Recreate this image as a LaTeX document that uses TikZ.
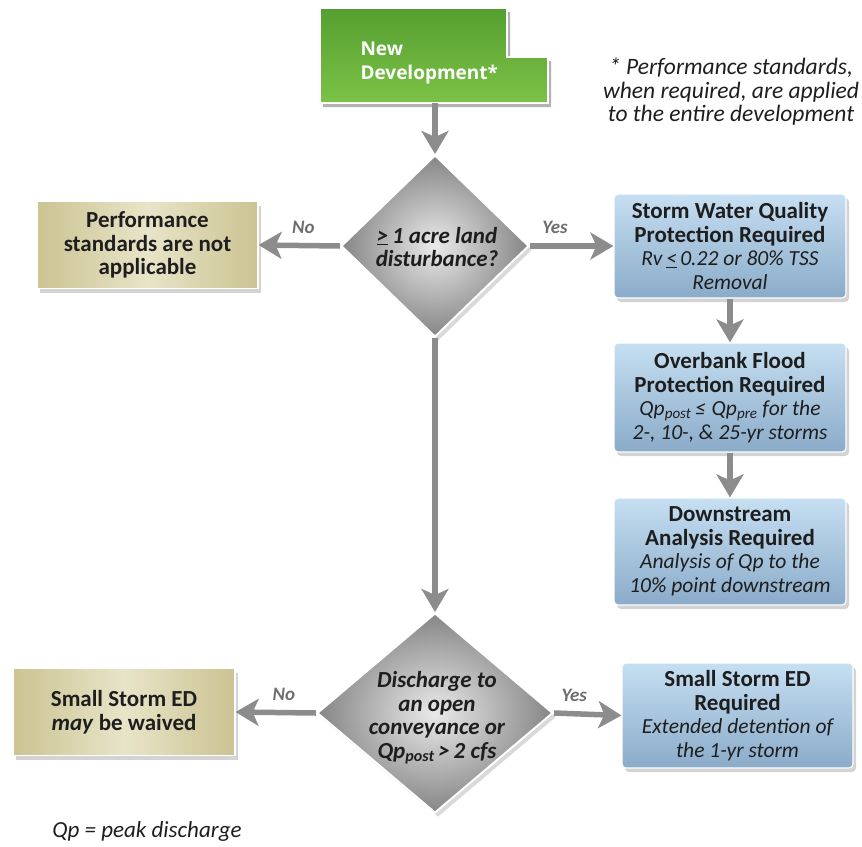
\documentclass[tikz,border=0pt]{standalone}
\usepackage{fontspec}
\setmainfont{Carlito}
\newfontfamily\greenfont{Open Sans}
\usetikzlibrary{shapes.geometric,shadows,arrows.meta}
\definecolor{arrowgrey}{HTML}{8C8C8C}
\definecolor{labelgrey}{HTML}{6E6E6E}
\definecolor{txtdark}{HTML}{1E1E1E}
\definecolor{bluetop}{HTML}{C6DFF2}
\definecolor{bluebot}{HTML}{8AABC9}
\definecolor{tanedge}{HTML}{CBC392}
\definecolor{tanmid}{HTML}{E8E4C8}
\definecolor{greentop}{HTML}{559F30}
\definecolor{greenbot}{HTML}{7CC247}
\definecolor{diaout}{HTML}{858585}
\definecolor{diain}{HTML}{EAEAEA}
\newcommand{\fstitle}{\fontsize{23}{23.5}\selectfont}
\newcommand{\fssub}{\fontsize{21.5}{23.5}\selectfont}
\newcommand{\fsnote}{\fontsize{23.5}{23.5}\selectfont}
\tikzset{
  flowarrow/.style={draw=arrowgrey, line width=5.5pt, -{Stealth[length=23pt,width=27pt,inset=6pt]}},
  bluebox/.style={rectangle, rounded corners=4pt, draw=white, line width=1.2pt,
    top color=bluetop, bottom color=bluebot, minimum width=232pt, inner sep=2pt,
    align=center, text=txtdark, font=\fstitle,
    drop shadow={opacity=0.35, shadow xshift=3pt, shadow yshift=-4pt}},
  tanbox/.style={rectangle, draw=white, line width=1.2pt,
    left color=tanedge, right color=tanedge, middle color=tanmid,
    inner sep=2pt, align=center, text=txtdark, font=\fstitle\bfseries,
    drop shadow={opacity=0.35, shadow xshift=3pt, shadow yshift=-4pt}},
  decision/.style={diamond, draw=white, line width=2pt, inner sep=0pt,
    shading=radial, inner color=diain, outer color=diaout,
    drop shadow={opacity=0.3, shadow xshift=3pt, shadow yshift=-4pt}},
  dtext/.style={align=center, text=txtdark, font=\fstitle\bfseries\itshape},
  yesno/.style={text=labelgrey, font=\fontsize{19}{21}\selectfont\bfseries\itshape},
}
\begin{document}
\begin{tikzpicture}[x=1pt,y=-1pt]
\useasboundingbox (0,0) rectangle (862,846);

% green start shape
\fill[black,opacity=0.3] (323,12) -- (510,12) -- (510,61) -- (551,61) -- (551,107) -- (323,107) -- cycle;
\shade[top color=greentop, bottom color=greenbot, draw=white, line width=1.5pt]
  (320,8) -- (507,8) -- (507,57) -- (548,57) -- (548,103) -- (320,103) -- cycle;
\node[anchor=west, align=left, text=white, font=\greenfont\fontsize{19}{24}\selectfont\bfseries] (start) at (357,63) {New\\Development*};
\coordinate (startbot) at (435,103);

% note
\node[align=center, text=txtdark, font=\fsnote\itshape] (note) at (731,92)
  {* Performance standards,\\when required, are applied\\to the entire development};

% decisions
\node[decision, minimum width=188pt, minimum height=182pt] (d1) at (435,246) {};
\node[dtext] (d1t) at (437,247) {\underline{>}\,1 acre land\\disturbance?};
\node[decision, minimum width=236pt, minimum height=200pt] (d2) at (435,713) {};
\node[dtext] (d2t) at (437,718) {Discharge to\\an open\\conveyance or\\Qp\textsubscript{post}\,>\,2 cfs};

% tan boxes
\node[tanbox, minimum width=221pt, minimum height=87pt] (na) at (147.5,245) {Performance\\standards are not\\applicable};
\node[tanbox, minimum width=222pt, minimum height=87pt] (waive) at (124,712) {Small Storm ED\\\textit{may} be waived};

% blue boxes
\node[bluebox, minimum height=104pt] (wq) at (730,246)
  {\textbf{Storm Water Quality}\\\textbf{Protection Required}\\{\fssub\itshape Rv\,\underline{<}\,0.22 or 80\% TSS}\\{\fssub\itshape Removal}};
\node[bluebox, minimum height=109pt] (ob) at (730,397.5)
  {\textbf{Overbank Flood}\\\textbf{Protection Required}\\{\fssub\itshape Qp\textsubscript{post}\,≤\;Qp\textsubscript{pre} for the}\\{\fssub\itshape 2-, 10-, \& 25-yr storms}};
\node[bluebox, minimum height=107pt] (ds) at (730,551.5)
  {\textbf{Downstream}\\\textbf{Analysis Required}\\{\fssub\itshape Analysis of Qp to the}\\{\fssub\itshape 10\% point downstream}};
\node[bluebox, minimum width=231pt, minimum height=105pt] (sed) at (737.5,715.5)
  {\textbf{Small Storm ED}\\\textbf{Required}\\{\fssub\itshape Extended detention of}\\{\fssub\itshape the 1-yr storm}};

% footer
\node[anchor=base, text=txtdark, font=\fontsize{23}{24}\selectfont\itshape] (foot) at (147,837) {Qp = peak discharge};

% connectors
\draw[flowarrow] (startbot) -- (d1.north);
\draw[flowarrow] (d1.west) -- (na.east) node[yesno, pos=0.45, above=6pt] {No};
\draw[flowarrow] (d1.east) -- (wq.west) node[yesno, pos=0.3, above=6pt] {Yes};
\draw[flowarrow] (wq.south) -- (ob.north);
\draw[flowarrow] (ob.south) -- (ds.north);
\draw[flowarrow] (d1.south) -- (d2.north);
\draw[flowarrow] (d2.west) -- (waive.east) node[yesno, pos=0.4, above=6pt] {No};
\draw[flowarrow] (d2.east) -- (sed.west) node[yesno, pos=0.3, above=6pt] {Yes};
\end{tikzpicture}
\end{document}
